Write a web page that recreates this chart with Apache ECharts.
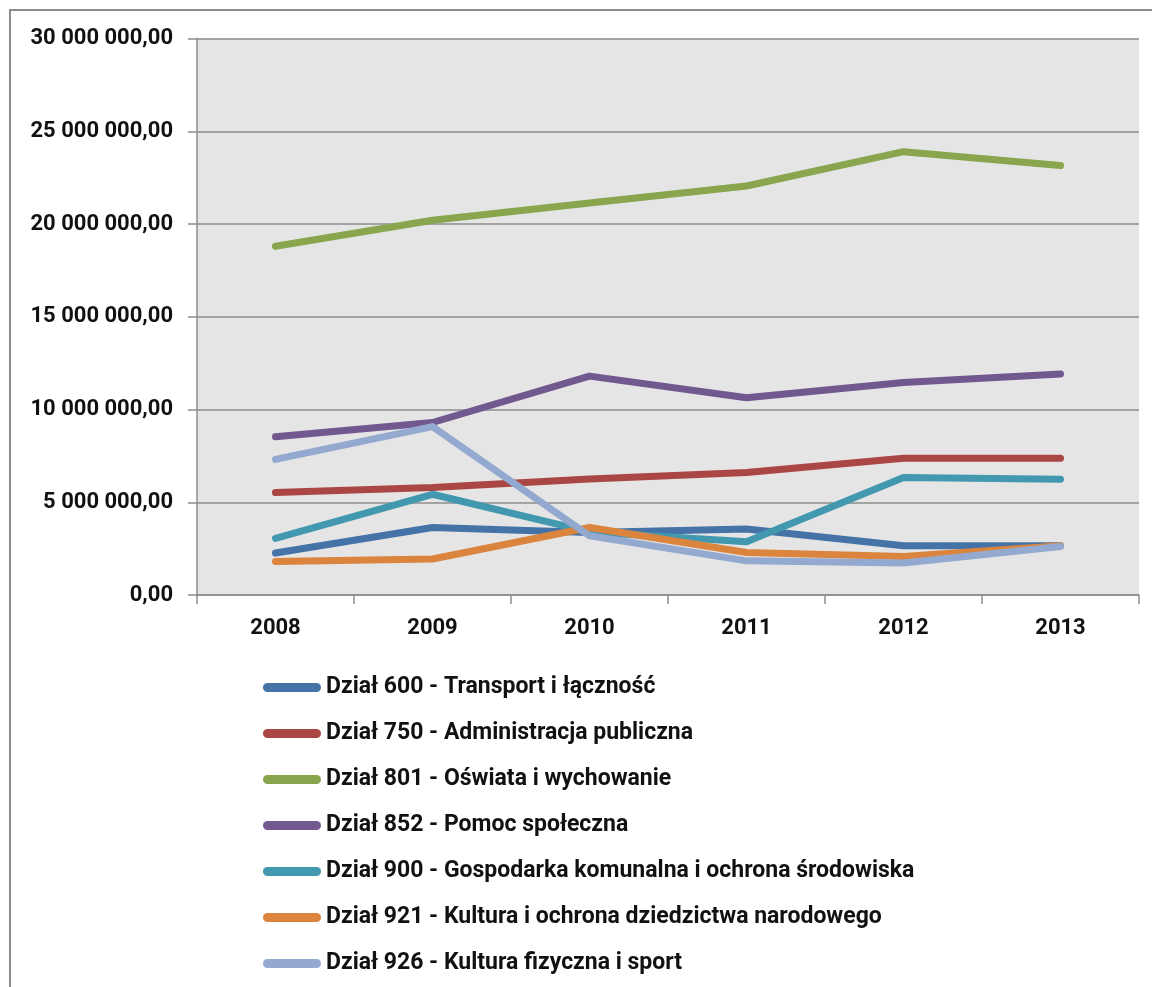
<!DOCTYPE html>
<html>
<head>
<meta charset="utf-8">
<script src="https://cdn.jsdelivr.net/npm/echarts@6/dist/echarts.min.js"></script>
<style>
html,body{margin:0;padding:0;background:#fff;}
#c{width:1152px;height:987px;}
</style>
</head>
<body>
<div id="c"></div>
<script>
const years = ['2008','2009','2010','2011','2012','2013'];
const yTicks = { min: 0, max: 30000000, interval: 5000000 };

const names = [
  'Dział 600 - Transport i łączność',
  'Dział 750 - Administracja publiczna',
  'Dział 801 - Oświata i wychowanie',
  'Dział 852 - Pomoc społeczna',
  'Dział 900 - Gospodarka komunalna i ochrona środowiska',
  'Dział 921 - Kultura i ochrona dziedzictwa narodowego',
  'Dział 926 - Kultura fizyczna i sport'
];
const dzial600 = [2260000, 3640000, 3370000, 3560000, 2650000, 2650000];
const dzial750 = [5520000, 5790000, 6250000, 6600000, 7370000, 7370000];
const dzial801 = [18800000, 20200000, 21130000, 22050000, 23900000, 23150000];
const dzial852 = [8530000, 9300000, 11800000, 10630000, 11450000, 11920000];
const dzial900 = [3050000, 5430000, 3400000, 2870000, 6330000, 6240000];
const dzial921 = [1810000, 1940000, 3640000, 2290000, 2080000, 2650000];
const dzial926 = [7310000, 9080000, 3190000, 1840000, 1720000, 2620000];

const colors = ['#4572A7','#AA4643','#89A54E','#71588F','#4198AF','#DB843D','#93A9CF'];
const seriesData = [dzial600, dzial750, dzial801, dzial852, dzial900, dzial921, dzial926];

function fmt(v){
  const s = Math.round(v).toString().replace(/\B(?=(\d{3})+(?!\d))/g, ' ');
  return s + ',00';
}

const FONT = 'Roboto, "Liberation Sans", sans-serif';
const chart = echarts.init(document.getElementById('c'), null, {renderer:'canvas'});
chart.setOption({
  animation: false,
  backgroundColor: '#ffffff',
  color: colors,
  graphic: [{
    type: 'rect', silent: true, z: -10,
    shape: { x: 10, y: 10, width: 1300, height: 1200 },
    style: { fill: 'none', stroke: '#8c8c8c', lineWidth: 2 }
  }],
  grid: {
    left: 197, right: 13, top: 38.5, bottom: 392,
    show: true, backgroundColor: '#e5e5e5', borderWidth: 0
  },
  legend: {
    orient: 'vertical', left: 258, top: 671, height: 400, width: 800,
    itemWidth: 58, itemHeight: 9, itemGap: 23,
    icon: 'path://M4.5,0 L53.5,0 A4.5,4.5 0 0 1 53.5,9 L4.5,9 A4.5,4.5 0 0 1 4.5,0 Z',
    textStyle: { fontFamily: FONT, fontWeight: 'bold', fontSize: 23, color: '#111', lineHeight: 23 },
    data: names
  },
  xAxis: {
    type: 'category', data: years, boundaryGap: true,
    axisLine: { show: true, lineStyle: { color: '#8c8c8c', width: 1.5 } },
    axisTick: { show: true, length: 9, alignWithLabel: false, lineStyle: { color: '#8c8c8c', width: 1.5 } },
    axisLabel: { margin: 22, fontFamily: FONT, fontWeight: 'bold', fontSize: 22, color: '#111' },
    splitLine: { show: false }
  },
  yAxis: {
    type: 'value', min: yTicks.min, max: yTicks.max, interval: yTicks.interval,
    axisLine: { show: true, lineStyle: { color: '#8c8c8c', width: 1.5 } },
    axisTick: { show: true, length: 9, lineStyle: { color: '#8c8c8c', width: 1.5 } },
    axisLabel: { margin: 24, fontFamily: FONT, fontWeight: 'bold', fontSize: 22, color: '#111', formatter: fmt },
    splitLine: { show: true, lineStyle: { color: '#8c8c8c', width: 1.5 } }
  },
  series: seriesData.map((d, i) => ({
    name: names[i], type: 'line', data: d,
    showSymbol: false, symbol: 'none', smooth: false,
    lineStyle: { width: 7, color: colors[i], cap: 'round', join: 'round' },
    itemStyle: { color: colors[i] }
  }))
});
</script>
</body>
</html>
